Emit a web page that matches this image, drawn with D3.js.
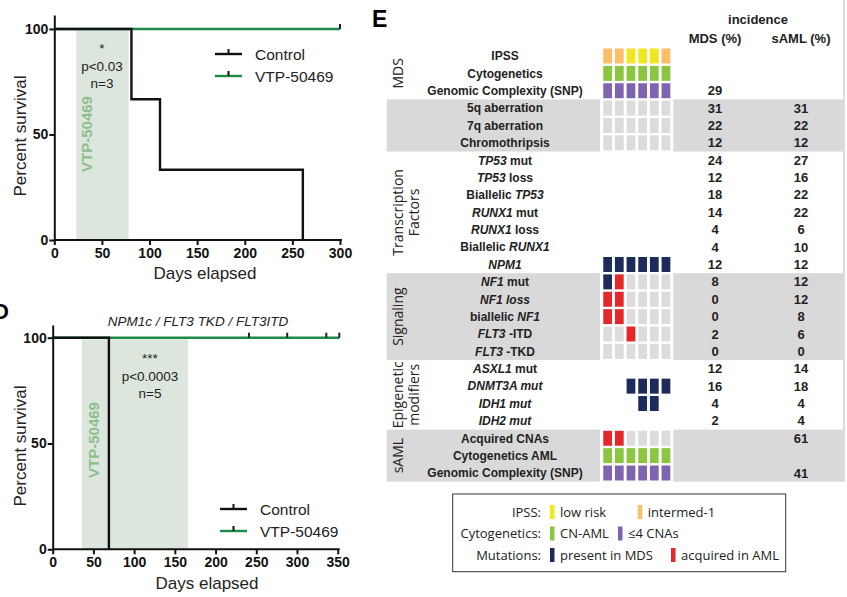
<!DOCTYPE html>
<html><head><meta charset="utf-8">
<script src="https://cdn.jsdelivr.net/npm/d3@7"></script>
<style>
body{margin:0;background:#fff;}
svg{display:block;font-family:"Liberation Sans",Arial,sans-serif;}
</style></head><body>
<svg width="847" height="597"></svg>
<script>
// panel C: survival, days
var cCtrlDays = [0, 81, 111, 261];
var cCtrlPct = [100, 66.7, 33.3, 0];
var cDrugDays = [0, 300];
var cDrugPct = [100, 100];
var cCensor = [300];
var cTreat = [23, 78];
var cTicksX = [0, 50, 100, 150, 200, 250, 300];

// panel D
var dCtrlDays = [0, 69];
var dCtrlPct = [100, 0];
var dDrugDays = [0, 352];
var dDrugPct = [100, 100];
var dCensor = [241, 288, 336, 352];
var dTreat = [36, 166];
var dTicksX = [0, 50, 100, 150, 200, 250, 300, 350];
var ticksY = [0, 50, 100];

// panel E
var rowLabels = ["IPSS", "Cytogenetics", "Genomic Complexity (SNP)", "5q aberration", "7q aberration", "Chromothripsis",
  "*TP53* mut", "*TP53* loss", "Biallelic *TP53*", "*RUNX1* mut", "*RUNX1* loss", "Biallelic *RUNX1*", "*NPM1*",
  "*NF1* mut", "*NF1 loss*", "biallelic *NF1*", "*FLT3* -ITD", "*FLT3* -TKD",
  "*ASXL1* mut", "*DNMT3A mut*", "*IDH1 mut*", "*IDH2 mut*",
  "Acquired CNAs", "Cytogenetics AML", "Genomic Complexity (SNP)"];
var mdsPct = [null, null, 29, 31, 22, 12, 24, 12, 18, 14, 4, 4, 12, 8, 0, 0, 2, 0, 12, 16, 4, 2, null, null, null];
var amlPct = [null, null, null, 31, 22, 12, 27, 16, 22, 22, 6, 10, 12, 12, 12, 8, 6, 0, 14, 18, 4, 4, 61, null, 41];
// O intermed-1, Y low risk, G CN-AML, P <=4 CNAs, N present in MDS, R acquired in AML, - none, . blank
var cellCodes = ["OOYYYO", "GGGGGG", "PPPPPP", "------", "------", "------",
  "......", "......", "......", "......", "......", "......", "NNNNNN",
  "NR----", "RR----", "RR----", "--R---", "------",
  "......", "..NNNN", "...NN.", "......",
  "RR----", "GGGGGG", "PPPPPP"];
var groups = [
  {name: ["MDS"], from: 0, to: 2},
  {name: ["Transcription", "Factors"], from: 6, to: 12},
  {name: ["Signaling"], from: 13, to: 17},
  {name: ["Epigenetic", "modifiers"], from: 18, to: 21},
  {name: ["sAML"], from: 22, to: 24}
];
var shadedRows = [[3, 5], [13, 17], [22, 24]];
var legendRows = [
  {label: "IPSS:", items: [["Y", "low risk"], ["O", "intermed-1"]]},
  {label: "Cytogenetics:", items: [["G", "CN-AML"], ["P", "≤4 CNAs"]]},
  {label: "Mutations:", items: [["N", "present in MDS"], ["R", "acquired in AML"]]}
];

var colors = {O: "#fbbd68", Y: "#f2e61d", G: "#8cc640", P: "#7d63b0", N: "#1c2a5c", R: "#e5262b", "-": "#dcdcdc"};
var green = "#1d8a47";

var svg = d3.select("svg");

function survival(opt) {
  var g = svg.append("g");
  var x = d3.scaleLinear().domain(opt.xDomain).range(opt.xRange);
  var y = d3.scaleLinear().domain([0, opt.yTop]).range(opt.yRange);

  g.append("rect")
    .attr("x", x(opt.treat[0])).attr("width", x(opt.treat[1]) - x(opt.treat[0]))
    .attr("y", y(99.2)).attr("height", y(0) - y(99.2))
    .attr("fill", "#dce6dc");
  var mid = (x(opt.treat[0]) + Math.min(x(opt.treat[1]), x(opt.treat[0]) + 30)) / 2;
  g.append("text")
    .attr("transform", "translate(" + opt.vtpX + "," + opt.vtpY + ") rotate(-90)")
    .attr("text-anchor", "middle").attr("font-size", 15).attr("font-weight", "bold")
    .attr("fill", "#8cbf8c").text("VTP-50469");

  var line = d3.line().curve(d3.curveStepAfter)
    .x(function(d) { return x(d[0]); }).y(function(d) { return y(d[1]); });
  g.append("path").datum(d3.zip(opt.drugDays, opt.drugPct))
    .attr("d", line).attr("fill", "none").attr("stroke", green).attr("stroke-width", 2.4);
  g.selectAll(".cens").data(opt.censor).enter().append("line")
    .attr("x1", function(d) { return x(d); }).attr("x2", function(d) { return x(d); })
    .attr("y1", y(100)).attr("y2", y(100) - 5)
    .attr("stroke", "#222").attr("stroke-width", 2);
  g.append("path").datum(d3.zip(opt.ctrlDays, opt.ctrlPct))
    .attr("d", line).attr("fill", "none").attr("stroke", "#111").attr("stroke-width", 2.4);

  var ax = g.append("g").attr("transform", "translate(0," + y(0) + ")")
    .call(d3.axisBottom(x).tickValues(opt.ticksX).tickSize(5).tickSizeOuter(0).tickPadding(3));
  var ay = g.append("g").attr("transform", "translate(" + x(0) + ",0)")
    .call(d3.axisLeft(y).tickValues(ticksY).tickSize(5).tickSizeOuter(0).tickPadding(1));
  [ax, ay].forEach(function(a) {
    a.selectAll("path,line").attr("stroke", "#111").attr("stroke-width", 2);
    a.selectAll("text").attr("font-size", 14).attr("font-weight", "bold").attr("fill", "#111")
      .attr("font-family", "Liberation Sans, Arial, sans-serif");
  });
  ax.select(".domain").attr("d", "M" + x(0) + ",0H" + (opt.xRange[1] + 2));

  g.append("text").attr("x", opt.xLabel[0]).attr("y", opt.xLabel[1]).attr("text-anchor", "middle")
    .attr("font-size", 17).attr("fill", "#222").text("Days elapsed");
  g.append("text").attr("transform", "translate(26," + opt.yLabelY + ") rotate(-90)")
    .attr("text-anchor", "middle").attr("font-size", 17).attr("fill", "#222").text("Percent survival");

  opt.stat.forEach(function(s, i) {
    g.append("text").attr("x", opt.statX).attr("y", opt.statY + i * 17.5).attr("text-anchor", "middle")
      .attr("font-size", 13.5).attr("fill", "#222").text(s);
  });

  [["Control", "#111"], ["VTP-50469", green]].forEach(function(d, i) {
    var ly = opt.legY + i * 22;
    g.append("line").attr("x1", opt.legX).attr("x2", opt.legX + 27).attr("y1", ly).attr("y2", ly)
      .attr("stroke", d[1]).attr("stroke-width", 2.4);
    g.append("line").attr("x1", opt.legX + 13.5).attr("x2", opt.legX + 13.5).attr("y1", ly).attr("y2", ly - 5)
      .attr("stroke", "#111").attr("stroke-width", 2);
    g.append("text").attr("x", opt.legX + 40).attr("y", ly + 5.5).attr("font-size", 15.5).attr("fill", "#222").text(d[0]);
  });
}

survival({
  xDomain: [0, 300], xRange: [54.3, 340], yTop: 106.6, yRange: [240, 15],
  ctrlDays: cCtrlDays, ctrlPct: cCtrlPct, drugDays: cDrugDays, drugPct: cDrugPct,
  censor: cCensor, treat: cTreat, ticksX: cTicksX,
  vtpX: 92, vtpY: 134, stat: ["*", "p<0.03", "n=3"], statX: 102, statY: 53,
  legX: 215, legY: 54, xLabel: [205, 279], yLabelY: 136
});

survival({
  xDomain: [0, 350], xRange: [52.7, 337.7], yTop: 106, yRange: [549.3, 325],
  ctrlDays: dCtrlDays, ctrlPct: dCtrlPct, drugDays: dDrugDays, drugPct: dDrugPct,
  censor: dCensor, treat: dTreat, ticksX: dTicksX,
  vtpX: 99, vtpY: 440, stat: ["***", "p<0.0003", "n=5"], statX: 150, statY: 363,
  legX: 220, legY: 509, xLabel: [207, 589], yLabelY: 446
});

svg.append("text").attr("x", 198).attr("y", 326).attr("text-anchor", "middle")
  .attr("font-size", 13.5).attr("font-style", "italic").attr("fill", "#222")
  .text("NPM1c / FLT3 TKD / FLT3ITD");
svg.append("text").attr("x", -7).attr("y", 319).attr("font-size", 22).attr("font-weight", "bold").text("D");

// panel E
var E = svg.append("g");
var rowY = d3.scaleBand().domain(d3.range(rowLabels.length)).range([47.3, 481.7]);
var colX = d3.scaleBand().domain(d3.range(6)).range([601.8, 671.8]).paddingInner(0.25).paddingOuter(0.125);
var rh = rowY.bandwidth();

E.append("text").attr("x", 372).attr("y", 27).attr("font-size", 23).attr("font-weight", "bold").text("E");
E.append("line").attr("x1", 844).attr("x2", 844).attr("y1", 0).attr("y2", 482).attr("stroke", "#bbb").attr("stroke-width", 1);

shadedRows.forEach(function(r) {
  var y0 = rowY(r[0]), y1 = rowY(r[1]) + rh;
  E.append("rect").attr("x", 386.7).attr("width", 213.3).attr("y", y0).attr("height", y1 - y0).attr("fill", "#d9d9d9");
  E.append("rect").attr("x", 673.3).attr("width", 170.5).attr("y", y0).attr("height", y1 - y0).attr("fill", "#d9d9d9");
});

E.append("text").attr("x", 758).attr("y", 24).attr("text-anchor", "middle")
  .attr("font-size", 13).attr("font-weight", "bold").attr("fill", "#222").text("incidence");
E.append("text").attr("x", 715).attr("y", 43).attr("text-anchor", "middle")
  .attr("font-size", 13).attr("font-weight", "bold").attr("fill", "#222").text("MDS (%)");
E.append("text").attr("x", 801).attr("y", 43).attr("text-anchor", "middle")
  .attr("font-size", 13).attr("font-weight", "bold").attr("fill", "#222").text("sAML (%)");

rowLabels.forEach(function(lab, i) {
  var cy = rowY(i) + rh / 2;
  var t = E.append("text").attr("x", 505).attr("y", cy + 4.3).attr("text-anchor", "middle")
    .attr("font-size", 12).attr("font-weight", "bold").attr("fill", "#222");
  lab.split("*").forEach(function(s, k) {
    if (s) t.append("tspan").attr("font-style", k % 2 ? "italic" : null).text(s);
  });
  if (mdsPct[i] !== null) E.append("text").attr("x", 715).attr("y", cy + 4.5).attr("text-anchor", "middle")
    .attr("font-size", 13).attr("font-weight", "bold").attr("fill", "#222").text(mdsPct[i]);
  if (amlPct[i] !== null) E.append("text").attr("x", 801).attr("y", cy + 4.5).attr("text-anchor", "middle")
    .attr("font-size", 13).attr("font-weight", "bold").attr("fill", "#222").text(amlPct[i]);
  cellCodes[i].split("").forEach(function(c, j) {
    if (c === ".") return;
    E.append("rect").attr("x", colX(j)).attr("width", colX.bandwidth())
      .attr("y", rowY(i) + 1.2).attr("height", rh - 2.4).attr("fill", colors[c]);
  });
});

groups.forEach(function(gr) {
  var cy = (rowY(gr.from) + rowY(gr.to) + rh) / 2;
  gr.name.forEach(function(n, k) {
    var cx = gr.name.length === 1 ? 403 : 403 + k * 16;
    E.append("text").attr("transform", "translate(" + cx + "," + cy + ") rotate(-90)")
      .attr("text-anchor", "middle").attr("font-size", 14)
      .attr("font-family", "Open Sans, sans-serif").attr("fill", "#222").text(n);
  });
});

// legend
var L = svg.append("g").attr("font-family", "Open Sans, sans-serif").attr("font-size", 13).attr("fill", "#222");
L.append("rect").attr("x", 452.7).attr("y", 494).attr("width", 333).attr("height", 77.7)
  .attr("fill", "none").attr("stroke", "#333").attr("stroke-width", 1);
var legItemX = [[550, 637.7], [550, 618], [550, 671]];
legendRows.forEach(function(r, i) {
  var ly = 512 + i * 21.5;
  L.append("text").attr("x", 541).attr("y", ly + 4.5).attr("text-anchor", "end").text(r.label);
  r.items.forEach(function(it, k) {
    var lx = legItemX[i][k];
    L.append("rect").attr("x", lx).attr("y", ly - 7).attr("width", 4.5).attr("height", 14).attr("fill", colors[it[0]]);
    L.append("text").attr("x", lx + 10).attr("y", ly + 4.5).text(it[1]);
  });
});
</script>
</body></html>
